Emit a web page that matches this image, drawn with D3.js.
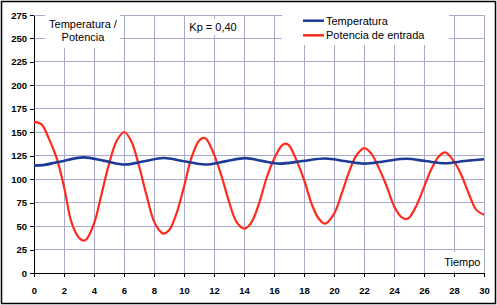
<!DOCTYPE html>
<html>
<head>
<meta charset="utf-8">
<script src="https://cdn.jsdelivr.net/npm/d3@7"></script>
<style>
  body { margin: 0; background: #fff; }
  text { font-family: "Liberation Sans", Arial, sans-serif; fill: #000; }
</style>
</head>
<body>
<div id="chart"></div>
<script>
const xTicks = [0, 2, 4, 6, 8, 10, 12, 14, 16, 18, 20, 22, 24, 26, 28, 30];
const yTicks = [0, 25, 50, 75, 100, 125, 150, 175, 200, 225, 250, 275];

// Temperatura (azul)
const tempTime = [0, 0.6, 1.62, 3.29, 4.7, 6.07, 7.35, 8.64, 10.0, 11.4, 12.75, 14.09, 15.2, 16.4, 17.9, 19.42, 20.7, 22.02, 23.4, 24.8, 26.1, 27.42, 28.7, 30];
const tempValue = [114.5, 115, 118.3, 123.2, 119.5, 115.6, 119.1, 122.6, 119.1, 115.6, 119, 122.4, 119.5, 116.6, 119.3, 122, 119.3, 116.6, 119.2, 121.7, 119.3, 117, 119.3, 121.3];

// Potencia de entrada (rojo), read every 0.5 plus the peaks and troughs
const powerTime = [
  0, 0.5, 1, 1.5, 2, 2.5, 3, 3.29, 3.5, 4, 4.5,
  5, 5.5, 6.02, 6.5, 7, 7.5, 8, 8.5, 8.64, 9, 9.5,
  10, 10.5, 11, 11.31, 11.5, 12, 12.5, 13, 13.5, 14.02, 14.5,
  15, 15.5, 16, 16.5, 16.76, 17, 17.5, 18, 18.5, 19, 19.42,
  20, 20.5, 21, 21.5, 22.02, 22.5, 23, 23.5, 24, 24.5, 24.8,
  25, 25.5, 26, 26.5, 27, 27.42, 28, 28.5, 29, 29.5, 30
];
const powerValue = [
  161, 158.5, 143, 123, 92, 54, 37.5, 34.5, 36, 52.5, 84,
  116, 140.5, 150.3, 140, 114, 83, 55, 43, 42, 45.5, 63.5,
  92, 123, 141, 144, 142.5, 126.5, 103.5, 76, 54.5, 47.2, 54,
  74, 101, 121.5, 135.5, 137.8, 136, 120, 99.5, 74, 57.5, 52.6,
  63, 84, 107.5, 125.5, 133.2, 127, 111.5, 93, 71.5, 59.5, 57.5,
  58.8, 72, 91.5, 111, 124.5, 128.6, 119, 104, 84, 67, 62
];

const w = 497;
const h = 305;
const margin = { top: 15, right: 13, bottom: 32, left: 34 };

const gridColor = "#a9a9cb";
const blue = "#1c3a96";
const red = "#ff2a1c";

const svg = d3
  .select("#chart")
  .append("svg")
  .attr("width", w)
  .attr("height", h);

const x = d3.scaleLinear([0, 30], [margin.left, w - margin.right]);
const y = d3.scaleLinear([0, 275], [h - margin.bottom, margin.top]);

// grid
svg.append("g")
  .selectAll("line")
  .data(xTicks.slice(1))
  .join("line")
  .attr("x1", (d) => x(d))
  .attr("x2", (d) => x(d))
  .attr("y1", y(0))
  .attr("y2", y(275))
  .attr("stroke", gridColor)
  .attr("stroke-width", 1)
  .attr("shape-rendering", "crispEdges");

svg.append("g")
  .selectAll("line")
  .data(yTicks.slice(1))
  .join("line")
  .attr("x1", x(0))
  .attr("x2", x(30))
  .attr("y1", (d) => y(d))
  .attr("y2", (d) => y(d))
  .attr("stroke", gridColor)
  .attr("stroke-width", 1)
  .attr("shape-rendering", "crispEdges");

// white boxes of the text labels (they hide the grid)
const boxes = [
  [45, 13, 75, 35],    // Temperatura / Potencia
  [186, 19, 55, 16],   // Kp
  [282, 13, 167, 32],  // legend
  [441, 252, 42, 19]   // Tiempo
];
svg.append("g")
  .selectAll("rect")
  .data(boxes)
  .join("rect")
  .attr("x", (d) => d[0])
  .attr("y", (d) => d[1])
  .attr("width", (d) => d[2])
  .attr("height", (d) => d[3])
  .attr("fill", "#fff");

// axes
const gx = svg.append("g")
  .attr("transform", `translate(0,${y(0)})`)
  .call(d3.axisBottom(x).tickValues(xTicks).tickSize(4).tickSizeOuter(0).tickPadding(10));

const gy = svg.append("g")
  .attr("transform", `translate(${x(0)},0)`)
  .call(d3.axisLeft(y).tickValues(yTicks).tickSize(4).tickSizeOuter(0).tickPadding(3));

[gx, gy].forEach((g) => {
  g.selectAll("path, line").attr("stroke", "#000").attr("shape-rendering", "crispEdges");
  g.selectAll("text")
    .attr("fill", "#000")
    .style("font-size", "9.5px")
    .style("font-weight", "bold");
});

// lines
const temp = tempTime.map((t, i) => [t, tempValue[i]]);
const power = powerTime.map((t, i) => [t, powerValue[i]]);

const line = d3.line()
  .x((d) => x(d[0]))
  .y((d) => y(d[1]))
  .curve(d3.curveCatmullRom.alpha(0.5));

svg.append("path")
  .attr("d", line(power))
  .attr("fill", "none")
  .attr("stroke", red)
  .attr("stroke-width", 2.2);

svg.append("path")
  .attr("d", line(temp))
  .attr("fill", "none")
  .attr("stroke", blue)
  .attr("stroke-width", 2.6);

// texts
svg.append("text")
  .attr("x", 83)
  .attr("y", 28)
  .attr("text-anchor", "middle")
  .style("font-size", "11px")
  .text("Temperatura /");

svg.append("text")
  .attr("x", 83)
  .attr("y", 40.5)
  .attr("text-anchor", "middle")
  .style("font-size", "11px")
  .text("Potencia");

svg.append("text")
  .attr("x", 213)
  .attr("y", 30.5)
  .attr("text-anchor", "middle")
  .style("font-size", "11px")
  .text("Kp = 0,40");

svg.append("text")
  .attr("x", 480.5)
  .attr("y", 266)
  .attr("text-anchor", "end")
  .style("font-size", "11px")
  .text("Tiempo");

// legend
const legendItems = [
  { name: "Temperatura", color: blue, y: 20.7 },
  { name: "Potencia de entrada", color: red, y: 35.3 }
];
const lg = svg.append("g");
lg.selectAll("line")
  .data(legendItems)
  .join("line")
  .attr("x1", 303)
  .attr("x2", 324)
  .attr("y1", (d) => d.y)
  .attr("y2", (d) => d.y)
  .attr("stroke", (d) => d.color)
  .attr("stroke-width", 2.5);
lg.selectAll("text")
  .data(legendItems)
  .join("text")
  .attr("x", 326)
  .attr("y", (d) => d.y + 4)
  .style("font-size", "11px")
  .text((d) => d.name);

// outer frame
svg.append("rect")
  .attr("x", 1.5)
  .attr("y", 1.5)
  .attr("width", w - 3)
  .attr("height", h - 3)
  .attr("fill", "none")
  .attr("stroke", "#000")
  .attr("stroke-width", 1.5);
</script>
</body>
</html>
